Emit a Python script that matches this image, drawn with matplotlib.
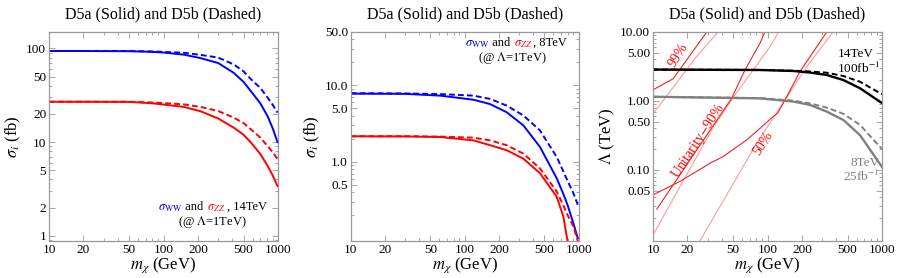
import numpy as np
import matplotlib.pyplot as plt
from matplotlib.ticker import LogLocator, NullFormatter

plt.rcParams['font.family'] = ['Liberation Serif', 'DejaVu Serif']
plt.rcParams['mathtext.fontset'] = 'stix'

# ---- panel 1: 14 TeV cross sections (fb) ----
m_14 = [10, 20, 50, 80, 100, 150, 210, 300, 410, 500, 580, 700, 810, 900, 990]
ww_14_a = [94, 94, 93.5, 92, 90.5, 86, 79, 70, 55, 44, 35, 26, 19, 14, 10]
ww_14_b = [94, 94, 94, 93, 92, 90, 85.5, 80, 67.6, 57, 47, 38, 30, 25, 20.7]
zz_14_a = [27, 27, 26.9, 26, 25.2, 23.8, 21.4, 17.9, 14.3, 12, 9.9, 7.5, 5.6, 4.4, 3.4]
zz_14_b = [27, 27, 27, 26.5, 26.1, 25.3, 23.8, 21.5, 18.3, 16, 13.7, 11.2, 9.1, 7.8, 6.6]

# ---- panel 2: 8 TeV cross sections (fb) ----
m_8 = [10, 30, 61, 119, 167, 233, 327, 457, 641, 733, 800, 897, 982]
ww_8_a = [7.8, 7.75, 7.35, 6.5, 5.7, 4.46, 3.0, 1.57, 0.61, 0.38, 0.27, 0.158, 0.1]
ww_8_b = [7.9, 7.85, 7.7, 7.35, 6.66, 5.45, 4.04, 2.58, 1.16, 0.75, 0.56, 0.39, 0.274]
zz_8_a = [2.16, 2.15, 2.11, 1.91, 1.65, 1.42, 1.1, 0.71, 0.35, 0.193, 0.09, 0.05, 0.03]
zz_8_b = [2.16, 2.16, 2.14, 2.07, 1.91, 1.65, 1.28, 0.82, 0.41, 0.27, 0.2, 0.143, 0.092]

# ---- panel 3: reach in Lambda (TeV) ----
m_reach = [10, 86, 168, 235, 329, 460, 642, 1000]
lam_14_a = [2.85, 2.81, 2.72, 2.58, 2.38, 2.01, 1.53, 0.93]
lam_14_b = [2.86, 2.82, 2.75, 2.68, 2.57, 2.3, 1.9, 1.25]
lam_8_a = [1.15, 1.09, 0.98, 0.875, 0.7, 0.53, 0.32, 0.11]
lam_8_b = [1.15, 1.1, 1.01, 0.92, 0.8, 0.65, 0.45, 0.2]

# unitarity contours (dark: 14 TeV, light: 8 TeV)
u99_dark_m = [10, 15, 29.5]
u99_dark_l = [1.45, 2.1, 10]
u99_light_m = [10, 24, 37]
u99_light_l = [0.65, 4.4, 10]
u90_dark_m = [10.8, 48.6, 63.5, 86, 95]
u90_dark_l = [0.027, 1.09, 2.8, 6.9, 10]
u90_light_m = [10, 33.7, 52, 75, 105, 125]
u90_light_l = [0.0114, 0.42, 1.22, 2.81, 6.1, 10]
u50_dark_m = [10, 17.2, 31.5, 41, 65.8, 86, 105, 122, 142, 192, 329]
u50_dark_l = [0.0434, 0.068, 0.125, 0.156, 0.272, 0.4, 0.54, 0.66, 1.03, 2.66, 10]
u50_light_m = [25.7, 80.5, 142, 220, 376]
u50_light_l = [0.0093, 0.244, 1.03, 3.14, 10.1]

x_ticks = [10, 20, 50, 100, 200, 500, 1000]
y1_ticks = [1, 2, 5, 10, 20, 50, 100]
y2_ticks = [0.5, 1.0, 5.0, 10.0, 50.0]
y2_labels = ['0.5', '1.0', '5.0', '10.0', '50.0']
y3_ticks = [0.05, 0.1, 0.5, 1, 5, 10]
y3_labels = ['0.05', '0.10', '0.50', '1.00', '5.00', '10.00']

title = 'D5a (Solid) and D5b (Dashed)'
dash = (0, (3, 1.6))
frame_col = '#999999'


def style(ax, ylim, yticks, ylabels, ylabel):
    ax.set_xscale('log')
    ax.set_yscale('log')
    ax.set_xlim(10, 1000)
    ax.set_ylim(*ylim)
    ax.set_xticks(x_ticks, labels=[str(v) for v in x_ticks])
    ax.set_yticks(yticks, labels=ylabels)
    ax.xaxis.set_minor_locator(LogLocator(subs=np.arange(2, 10)))
    ax.yaxis.set_minor_locator(LogLocator(subs=np.arange(2, 10)))
    ax.xaxis.set_minor_formatter(NullFormatter())
    ax.yaxis.set_minor_formatter(NullFormatter())
    ax.tick_params(which='both', direction='in', top=True, right=True,
                   labelsize=9.5, color=frame_col, width=0.6, pad=2)
    ax.tick_params(which='major', length=4)
    ax.tick_params(which='minor', length=2)
    for s in ax.spines.values():
        s.set_color(frame_col)
        s.set_linewidth(0.9)
    ax.set_title(title, fontsize=11.5, pad=10)
    ax.set_xlabel(r'$m_\chi$ (GeV)', fontsize=12, labelpad=0)
    ax.set_ylabel(ylabel, fontsize=12, labelpad=2)


def colored_label(ax, x, y, energy, fs=9):
    # sigma_WW in blue, sigma_ZZ in red, the rest in black
    t1 = ax.text(x, y, r'$\sigma_{\mathrm{WW}}$', color='blue', fontsize=fs,
                 transform=ax.transAxes, va='baseline')
    t2 = ax.annotate(' and ', xy=(1, y), xycoords=(t1, 'axes fraction'),
                     fontsize=fs, va='baseline')
    t3 = ax.annotate(r'$\sigma_{ZZ}$', xy=(1, y), xycoords=(t2, 'axes fraction'),
                     fontsize=fs, va='baseline', color='red')
    ax.annotate(', ' + energy, xy=(1, y), xycoords=(t3, 'axes fraction'),
                xytext=(1, 0), textcoords='offset points',
                fontsize=fs, va='baseline')


fig = plt.figure(figsize=(8.99, 2.78), dpi=100)
W = 229 / 899
B = 37 / 278
H = 209 / 278
ax1 = fig.add_axes([49 / 899, B, W, H])
ax2 = fig.add_axes([350.7 / 899, B, 228 / 899, H])
ax3 = fig.add_axes([653 / 899, B, W, H])

# panel 1
ax1.plot(m_14, ww_14_a, color='blue', lw=1.4)
ax1.plot(m_14, ww_14_b, color='blue', lw=1.4, ls=dash)
ax1.plot(m_14, zz_14_a, color='red', lw=1.4)
ax1.plot(m_14, zz_14_b, color='red', lw=1.4, ls=dash)
style(ax1, (0.88, 150), y1_ticks, [str(v) for v in y1_ticks], r'$\sigma_i$ (fb)')
colored_label(ax1, 0.475, 0.148, '14TeV')
ax1.text(0.715, 0.075, r'(@ $\Lambda$=1TeV)', fontsize=9, ha='center',
         va='baseline', transform=ax1.transAxes)

# panel 2
ax2.plot(m_8, ww_8_a, color='blue', lw=1.4)
ax2.plot(m_8, ww_8_b, color='blue', lw=1.4, ls=dash)
ax2.plot(m_8, zz_8_a, color='red', lw=1.4)
ax2.plot(m_8, zz_8_b, color='red', lw=1.4, ls=dash)
style(ax2, (0.092, 50), y2_ticks, y2_labels, r'$\sigma_i$ (fb)')
colored_label(ax2, 0.50, 0.932, '8TeV')
ax2.text(0.71, 0.86, r'(@ $\Lambda$=1TeV)', fontsize=9, ha='center',
         va='baseline', transform=ax2.transAxes)

# panel 3
dark_red = '#ee2222'
light_red = '#ff9a9a'
ax3.plot(u99_light_m, u99_light_l, color=light_red, lw=0.8)
ax3.plot(u90_light_m, u90_light_l, color=light_red, lw=0.8)
ax3.plot(u50_light_m, u50_light_l, color=light_red, lw=0.8)
ax3.plot(u99_dark_m, u99_dark_l, color=dark_red, lw=0.8)
ax3.plot(u90_dark_m, u90_dark_l, color=dark_red, lw=0.8)
ax3.plot(u50_dark_m, u50_dark_l, color=dark_red, lw=0.8)
ax3.plot(m_reach, lam_14_a, color='black', lw=1.7)
ax3.plot(m_reach, lam_14_b, color='black', lw=1.4, ls=dash)
ax3.plot(m_reach, lam_8_a, color='#808080', lw=1.7)
ax3.plot(m_reach, lam_8_b, color='#808080', lw=1.4, ls=dash)
style(ax3, (0.0093, 10), y3_ticks, y3_labels, r'$\Lambda$ (TeV)')
ax3.text(16.5, 4.6, '99%', color='red', fontsize=10, rotation=58,
         ha='center', va='center')
ax3.text(25, 0.26, r'Unitarity$-$90%', color='red', fontsize=10, rotation=57,
         ha='center', va='center')
ax3.text(92, 0.245, '50%', color='red', fontsize=10, rotation=57,
         ha='center', va='center')
ax3.text(0.805, 0.88, '14TeV', fontsize=9.5, ha='left', va='baseline',
         transform=ax3.transAxes)
ax3.text(0.805, 0.805, r'100fb$^{-1}$', fontsize=9.5, ha='left', va='baseline',
         transform=ax3.transAxes)
ax3.text(0.99, 0.36, '8TeV', fontsize=9.5, ha='right', va='baseline',
         color='#808080', transform=ax3.transAxes)
ax3.text(0.99, 0.285, r'25fb$^{-1}$', fontsize=9.5, ha='right', va='baseline',
         color='#808080', transform=ax3.transAxes)

fig.savefig('out.png', dpi=100)
